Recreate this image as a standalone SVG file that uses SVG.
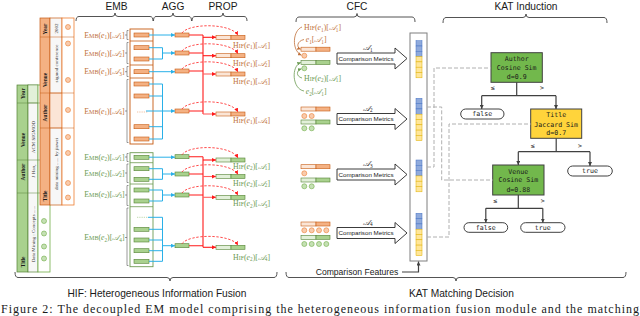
<svg xmlns="http://www.w3.org/2000/svg" width="640" height="316" viewBox="0 0 640 316">
<defs>
<style>
.ob{fill:#F4B183;stroke:#C55A11;stroke-width:0.6}
.ol{fill:#FBE5D6;stroke:#C55A11;stroke-width:0.6}
.gb{fill:#A9D18E;stroke:#548235;stroke-width:0.6}
.gl{fill:#E2F0D9;stroke:#548235;stroke-width:0.6}
.obox{fill:none;stroke:#C55A11;stroke-width:0.9}
.gbox{fill:none;stroke:#6E9B52;stroke-width:0.9}
.ot{font-family:"Liberation Serif",serif;font-size:7.8px;fill:#C0703A}
.gt{font-family:"Liberation Serif",serif;font-size:7.8px;fill:#6B9A52}
.sc{font-size:6px}
.it{font-style:italic}
.sb{font-size:5.2px}
.scr{font-family:"DejaVu Serif","DejaVu Sans","Noto Sans",serif;font-style:italic;font-size:7.6px}
.blue{stroke:#29B0E8;stroke-width:1;fill:none}
.red{stroke:#FF1A1A;stroke-width:1.1;fill:none}
.redl{stroke:#FF6060;stroke-width:1.1;fill:none}
.dash{stroke:#FF2020;stroke-width:0.8;stroke-dasharray:2.4 1.6;fill:none}
.gd{stroke:#B0B0B0;stroke-width:1;stroke-dasharray:4 2;fill:none}
.tree{stroke:#404040;stroke-width:1.2;fill:none}
.mono{font-family:"DejaVu Sans Mono",monospace;font-size:6.6px;fill:#1a1a1a;text-anchor:middle}
.lab{font-family:"Liberation Sans",sans-serif;font-size:10.2px;fill:#1a1a1a;text-anchor:middle}
.br{stroke:#404040;stroke-width:0.9;fill:none}
.th{font-family:"Liberation Serif",serif;font-size:5.4px;font-weight:bold;fill:#1a1a1a;text-anchor:middle}
.tv{font-family:"Liberation Serif",serif;font-size:5px;fill:#333;text-anchor:middle}
.od{fill:#F8CBAD;stroke:#ED7D31;stroke-width:0.6}
.gdot{fill:#C5E0B4;stroke:#70AD47;stroke-width:0.6}
.cm{fill:#fff;stroke:#262626;stroke-width:0.9}
.cmt{font-family:"Liberation Sans",sans-serif;font-size:6.2px;fill:#1a1a1a;text-anchor:middle}
.bl{fill:#8FAADC;stroke:#4472C4;stroke-width:0.5}
.ye{fill:#FFE699;stroke:#E0B000;stroke-width:0.5}
.pill{fill:#fff;stroke:#404040;stroke-width:1}
.oc{stroke:#C0703A;stroke-width:0.8;fill:none}
.gc{stroke:#6B9A52;stroke-width:0.8;fill:none}
.tk{stroke:#555;stroke-width:0.6;fill:none}
</style>
<marker id="ab" viewBox="0 0 6 6" refX="6" refY="3" markerWidth="4" markerHeight="4" markerUnits="userSpaceOnUse" orient="auto"><path d="M0,0 L6,3 L0,6 z" fill="#29B0E8"/></marker>
<marker id="ar" viewBox="0 0 6 6" refX="6" refY="3" markerWidth="4" markerHeight="4" markerUnits="userSpaceOnUse" orient="auto"><path d="M0,0 L6,3 L0,6 z" fill="#FF1A1A"/></marker>
<marker id="ak" viewBox="0 0 6 6" refX="6" refY="3" markerWidth="4" markerHeight="4" markerUnits="userSpaceOnUse" orient="auto"><path d="M0,0 L6,3 L0,6 z" fill="#404040"/></marker>
<marker id="ao" viewBox="0 0 6 6" refX="6" refY="3" markerWidth="3.5" markerHeight="3.5" markerUnits="userSpaceOnUse" orient="auto"><path d="M0,0 L6,3 L0,6 z" fill="#C0703A"/></marker>
<marker id="ag" viewBox="0 0 6 6" refX="6" refY="3" markerWidth="3.5" markerHeight="3.5" markerUnits="userSpaceOnUse" orient="auto"><path d="M0,0 L6,3 L0,6 z" fill="#6B9A52"/></marker>
</defs>
<rect width="640" height="316" fill="#fff"/>

<!-- section labels and brackets -->
<g id="labels">
<text class="lab" x="116.5" y="9.5">EMB</text>
<text class="lab" x="173" y="9.5">AGG</text>
<text class="lab" x="223" y="9.5">PROP</text>
<text class="lab" x="357" y="9.5">CFC</text>
<text class="lab" x="526" y="9.5">KAT Induction</text>
<text class="lab" x="157" y="297">HIF: Heterogeneous Information Fusion</text>
<text class="lab" x="461.5" y="297">KAT Matching Decision</text>
<path class="br" d="M76,21 Q76,16.5 79,16.5 H112 Q115,16.5 115,13 Q115,16.5 118,16.5 H150 Q153,16.5 153,21"/>
<path class="br" d="M153.5,21 Q153.5,16.5 156,16.5 H170 Q173,16.5 173,13 Q173,16.5 176,16.5 H189 Q191.5,16.5 191.5,21"/>
<path class="br" d="M192,21 Q192,16.5 195,16.5 H220 Q223,16.5 223,13 Q223,16.5 226,16.5 H244 Q247,16.5 247,21"/>
<path class="br" d="M296,22 Q296,17 299,17 H354 Q357,17 357,13.5 Q357,17 360,17 H412 Q415,17 415,22"/>
<path class="br" d="M443,23 Q443,17.5 446,17.5 H523 Q526,17.5 526,14 Q526,17.5 529,17.5 H604 Q607,17.5 607,23"/>
<path class="br" d="M15,272 Q15,277.5 18,277.5 H167 Q170,277.5 170,281 Q170,277.5 173,277.5 H274 Q277,277.5 277,272"/>
<path class="br" d="M286,272 Q286,277.5 289,277.5 H453 Q456,277.5 456,281 Q456,277.5 459,277.5 H623 Q626,277.5 626,272"/>
<text x="1" y="312.8" font-family="Liberation Serif, serif" font-size="12" fill="#1a1a1a" textLength="638" lengthAdjust="spacing">Figure 2: The decoupled EM model comprising the heterogeneous information fusion module and the matching</text>
</g>

<!-- entity e2 table (green) -->
<g id="table-e2">
<rect x="17" y="85" width="11" height="187" fill="#A9D18E" stroke="#548235" stroke-width="0.7"/>
<rect x="28" y="85" width="10" height="187" fill="#F7F7F7" stroke="#548235" stroke-width="0.7"/>
<rect x="28" y="85" width="10" height="18" fill="#E2F0D9" stroke="#548235" stroke-width="0.5"/>
<rect x="38" y="85" width="12" height="187" fill="#fff" stroke="#70AD47" stroke-width="0.8"/>
<path d="M17,103 H50 M17,160 H50 M17,193 H50" stroke="#548235" stroke-width="0.5"/>
<text class="th" transform="translate(24.5,93.5) rotate(-90)">Year</text>
<text class="th" transform="translate(24.5,140) rotate(-90)">Venue</text>
<text class="th" transform="translate(24.5,172) rotate(-90)">Author</text>
<text class="th" transform="translate(24.5,262) rotate(-90)">Title</text>
<text class="tv" transform="translate(34.8,137) rotate(-90)">ACM SIGMOD</text>
<text class="tv" transform="translate(34.8,171) rotate(-90)">J Han,</text>
<text class="tv" transform="translate(34.8,234) rotate(-90)">Data Mining : Concepts ......</text>
<circle class="gdot" cx="44" cy="221" r="2.5"/>
<circle class="gdot" cx="44" cy="233.5" r="2.5"/>
<circle class="gdot" cx="44" cy="246.5" r="2.5"/>
<circle class="gdot" cx="44" cy="258.5" r="2.5"/>
</g>

<!-- entity e1 table (orange) -->
<g id="table-e1">
<rect x="40" y="18" width="10" height="187" fill="#F4B183" stroke="#C55A11" stroke-width="0.7"/>
<rect x="50" y="18" width="12" height="187" fill="#F7F7F7" stroke="#C55A11" stroke-width="0.7"/>
<rect x="50" y="93" width="12" height="35" fill="#FBE5D6" stroke="#C55A11" stroke-width="0.5"/>
<rect x="62" y="18" width="12" height="187" fill="#fff" stroke="#ED7D31" stroke-width="0.8"/>
<path d="M40,37 H74 M40,93 H74 M40,128 H74" stroke="#C55A11" stroke-width="0.5"/>
<text class="th" transform="translate(47,29) rotate(-90)">Year</text>
<text class="th" transform="translate(47,80) rotate(-90)">Venue</text>
<text class="th" transform="translate(47,113) rotate(-90)">Author</text>
<text class="th" transform="translate(47,196) rotate(-90)">Title</text>
<text class="tv" transform="translate(57.8,28.5) rotate(-90)">2002</text>
<text class="tv" transform="translate(57.8,63.5) rotate(-90)">sigmod conference</text>
<text class="tv" transform="translate(57.8,164) rotate(-90)">data mining ...... by jiawei</text>
<circle class="od" cx="68" cy="27" r="2.5"/>
<circle class="od" cx="68" cy="43.5" r="2.5"/>
<circle class="od" cx="68" cy="80" r="2.5"/>
<circle class="od" cx="68" cy="110" r="2.5"/>
<circle class="od" cx="68" cy="137" r="2.5"/>
<circle class="od" cx="68" cy="153" r="2.5"/>
<circle class="od" cx="68" cy="183" r="2.5"/>
<circle class="od" cx="68" cy="197.5" r="2.5"/>
</g>

<!-- EMB e1 -->
<g id="emb-e1">
<rect class="obox" x="130" y="29" width="23" height="115"/>
<path d="M130,41 H153 M130,65 H153 M130,78 H153" stroke="#C55A11" stroke-width="0.8"/>
<rect class="ob" x="134" y="33" width="15" height="4"/>
<rect class="ob" x="134" y="45.7" width="15" height="4"/>
<rect class="ob" x="134" y="57" width="15" height="4"/>
<rect class="ob" x="134" y="69.7" width="15" height="4"/>
<rect class="ob" x="134" y="82" width="15" height="4"/>
<rect class="ob" x="134" y="94" width="15" height="4"/>
<path d="M137,112 H148" stroke="#E8A070" stroke-width="0.8" stroke-dasharray="0.8 1"/>
<rect class="ob" x="134" y="124.7" width="15" height="4"/>
<rect class="ob" x="134" y="137" width="15" height="4"/>
<path class="tk" d="M128.5,30.5 H127 V39.5 H128.5 M125,35 H127 M128.5,42.5 H127 V63.5 H128.5 M125,53 H127 M128.5,66.5 H127 V76.5 H128.5 M125,71.7 H127 M128.5,79.5 H127 V142.5 H128.5 M125,111 H127"/>
<text class="ot" x="124.5" y="37.6" text-anchor="end">E<tspan class="sc">MB</tspan>(<tspan class="it">e</tspan><tspan class="sb" dy="1.5">1</tspan><tspan dy="-1.5">)[</tspan><tspan class="scr">𝒜</tspan><tspan class="sb" dy="1.5">1</tspan><tspan dy="-1.5">]</tspan></text>
<text class="ot" x="124.5" y="55.6" text-anchor="end">E<tspan class="sc">MB</tspan>(<tspan class="it">e</tspan><tspan class="sb" dy="1.5">1</tspan><tspan dy="-1.5">)[</tspan><tspan class="scr">𝒜</tspan><tspan class="sb" dy="1.5">2</tspan><tspan dy="-1.5">]</tspan></text>
<text class="ot" x="124.5" y="74.3" text-anchor="end">E<tspan class="sc">MB</tspan>(<tspan class="it">e</tspan><tspan class="sb" dy="1.5">1</tspan><tspan dy="-1.5">)[</tspan><tspan class="scr">𝒜</tspan><tspan class="sb" dy="1.5">3</tspan><tspan dy="-1.5">]</tspan></text>
<text class="ot" x="124.5" y="113.6" text-anchor="end">E<tspan class="sc">MB</tspan>(<tspan class="it">e</tspan><tspan class="sb" dy="1.5">1</tspan><tspan dy="-1.5">)[</tspan><tspan class="scr">𝒜</tspan><tspan class="sb" dy="1.5">4</tspan><tspan dy="-1.5">]</tspan></text>
</g>

<!-- EMB e2 -->
<g id="emb-e2">
<rect class="gbox" x="130" y="152.7" width="23" height="114"/>
<path d="M130,162.7 H153 M130,184 H153 M130,206.7 H153" stroke="#6E9B52" stroke-width="0.8"/>
<rect class="gb" x="134" y="155.3" width="15" height="4"/>
<rect class="gb" x="134" y="166.7" width="15" height="4"/>
<rect class="gb" x="134" y="177.3" width="15" height="4"/>
<rect class="gb" x="134" y="188" width="15" height="4"/>
<rect class="gb" x="134" y="199" width="15" height="4"/>
<path d="M137,217.3 H148" stroke="#9CC480" stroke-width="0.8" stroke-dasharray="0.8 1"/>
<rect class="gb" x="134" y="227.3" width="15" height="4"/>
<rect class="gb" x="134" y="238" width="15" height="4"/>
<rect class="gb" x="134" y="248.7" width="15" height="4"/>
<rect class="gb" x="134" y="259.3" width="15" height="4"/>
<path class="tk" d="M128.5,153.5 H127 V161.5 H128.5 M125,157 H127 M128.5,164 H127 V182.5 H128.5 M125,173 H127 M128.5,185.5 H127 V205.5 H128.5 M125,195 H127 M128.5,208 H127 V265.5 H128.5 M125,237.5 H127"/>
<text class="gt" x="124.5" y="159.6" text-anchor="end">E<tspan class="sc">MB</tspan>(<tspan class="it">e</tspan><tspan class="sb" dy="1.5">2</tspan><tspan dy="-1.5">)[</tspan><tspan class="scr">𝒜</tspan><tspan class="sb" dy="1.5">1</tspan><tspan dy="-1.5">]</tspan></text>
<text class="gt" x="124.5" y="175.6" text-anchor="end">E<tspan class="sc">MB</tspan>(<tspan class="it">e</tspan><tspan class="sb" dy="1.5">2</tspan><tspan dy="-1.5">)[</tspan><tspan class="scr">𝒜</tspan><tspan class="sb" dy="1.5">2</tspan><tspan dy="-1.5">]</tspan></text>
<text class="gt" x="124.5" y="196.6" text-anchor="end">E<tspan class="sc">MB</tspan>(<tspan class="it">e</tspan><tspan class="sb" dy="1.5">2</tspan><tspan dy="-1.5">)[</tspan><tspan class="scr">𝒜</tspan><tspan class="sb" dy="1.5">3</tspan><tspan dy="-1.5">]</tspan></text>
<text class="gt" x="124.5" y="240.2" text-anchor="end">E<tspan class="sc">MB</tspan>(<tspan class="it">e</tspan><tspan class="sb" dy="1.5">2</tspan><tspan dy="-1.5">)[</tspan><tspan class="scr">𝒜</tspan><tspan class="sb" dy="1.5">4</tspan><tspan dy="-1.5">]</tspan></text>
</g>

<!-- AGG bars -->
<g id="agg">
<rect class="ob" x="175" y="33" width="14" height="4"/>
<rect class="ob" x="175" y="51" width="14" height="4"/>
<rect class="ob" x="175" y="69" width="14" height="4"/>
<rect class="ob" x="175" y="109" width="14" height="4"/>
<rect class="gb" x="175" y="154.7" width="14" height="4"/>
<rect class="gb" x="175" y="172" width="14" height="4"/>
<rect class="gb" x="175" y="193" width="14" height="4"/>
<rect class="gb" x="175" y="243.7" width="14" height="4"/>
</g>

<!-- PROP bars and HIF labels -->
<g id="prop">
<rect class="ol" x="216" y="35.3" width="15" height="4"/><rect class="ob" x="231" y="35.3" width="14" height="4"/>
<rect class="ol" x="216" y="53.7" width="15" height="4"/><rect class="ob" x="231" y="53.7" width="14" height="4"/>
<rect class="ol" x="216" y="72" width="15" height="4"/><rect class="ob" x="231" y="72" width="14" height="4"/>
<rect class="ol" x="216" y="112" width="15" height="4"/><rect class="ob" x="231" y="112" width="14" height="4"/>
<rect class="gl" x="216" y="158" width="15" height="4"/><rect class="gb" x="231" y="158" width="14" height="4"/>
<rect class="gl" x="216" y="174.5" width="15" height="4"/><rect class="gb" x="231" y="174.5" width="14" height="4"/>
<rect class="gl" x="216" y="195.3" width="15" height="4"/><rect class="gb" x="231" y="195.3" width="14" height="4"/>
<rect class="gl" x="216" y="245.3" width="15" height="4"/><rect class="gb" x="231" y="245.3" width="14" height="4"/>
<text class="ot" x="233" y="47.8">H<tspan class="sc">IF</tspan>(<tspan class="it">e</tspan><tspan class="sb" dy="1.5">1</tspan><tspan dy="-1.5">)[</tspan><tspan class="scr">𝒜</tspan><tspan class="sb" dy="1.5">1</tspan><tspan dy="-1.5">]</tspan></text>
<text class="ot" x="233" y="65.8">H<tspan class="sc">IF</tspan>(<tspan class="it">e</tspan><tspan class="sb" dy="1.5">1</tspan><tspan dy="-1.5">)[</tspan><tspan class="scr">𝒜</tspan><tspan class="sb" dy="1.5">2</tspan><tspan dy="-1.5">]</tspan></text>
<text class="ot" x="233" y="83.8">H<tspan class="sc">IF</tspan>(<tspan class="it">e</tspan><tspan class="sb" dy="1.5">1</tspan><tspan dy="-1.5">)[</tspan><tspan class="scr">𝒜</tspan><tspan class="sb" dy="1.5">3</tspan><tspan dy="-1.5">]</tspan></text>
<text class="ot" x="233" y="122.8">H<tspan class="sc">IF</tspan>(<tspan class="it">e</tspan><tspan class="sb" dy="1.5">1</tspan><tspan dy="-1.5">)[</tspan><tspan class="scr">𝒜</tspan><tspan class="sb" dy="1.5">4</tspan><tspan dy="-1.5">]</tspan></text>
<text class="gt" x="233" y="168.8">H<tspan class="sc">IF</tspan>(<tspan class="it">e</tspan><tspan class="sb" dy="1.5">2</tspan><tspan dy="-1.5">)[</tspan><tspan class="scr">𝒜</tspan><tspan class="sb" dy="1.5">1</tspan><tspan dy="-1.5">]</tspan></text>
<text class="gt" x="233" y="185.5">H<tspan class="sc">IF</tspan>(<tspan class="it">e</tspan><tspan class="sb" dy="1.5">2</tspan><tspan dy="-1.5">)[</tspan><tspan class="scr">𝒜</tspan><tspan class="sb" dy="1.5">2</tspan><tspan dy="-1.5">]</tspan></text>
<text class="gt" x="233" y="206.1">H<tspan class="sc">IF</tspan>(<tspan class="it">e</tspan><tspan class="sb" dy="1.5">2</tspan><tspan dy="-1.5">)[</tspan><tspan class="scr">𝒜</tspan><tspan class="sb" dy="1.5">3</tspan><tspan dy="-1.5">]</tspan></text>
<text class="gt" x="233" y="259.5">H<tspan class="sc">IF</tspan>(<tspan class="it">e</tspan><tspan class="sb" dy="1.5">2</tspan><tspan dy="-1.5">)[</tspan><tspan class="scr">𝒜</tspan><tspan class="sb" dy="1.5">4</tspan><tspan dy="-1.5">]</tspan></text>
</g>

<!-- CFC inputs -->
<g id="cfc-a1">
<text class="ot" x="304" y="30">H<tspan class="sc">IF</tspan>(<tspan class="it">e</tspan><tspan class="sb" dy="1.5">1</tspan><tspan dy="-1.5">)[</tspan><tspan class="scr">𝒜</tspan><tspan class="sb" dy="1.5">1</tspan><tspan dy="-1.5">]</tspan></text>
<text class="ot" x="305.7" y="42.3"><tspan class="it">e</tspan><tspan class="sb" dy="1.5">1</tspan><tspan dy="-1.5">[</tspan><tspan class="scr">𝒜</tspan><tspan class="sb" dy="1.5">1</tspan><tspan dy="-1.5">]</tspan></text>
<rect class="ol" x="301" y="47.2" width="15" height="4"/><rect class="ob" x="316" y="47.2" width="14" height="4"/>
<circle class="od" cx="304.3" cy="55.7" r="2.5"/>
<rect class="gl" x="301" y="60.5" width="15" height="4"/><rect class="gb" x="316" y="60.5" width="14" height="4"/>
<circle class="gdot" cx="304.3" cy="68.3" r="2.5"/>
<text class="gt" x="304" y="80.7">H<tspan class="sc">IF</tspan>(<tspan class="it">e</tspan><tspan class="sb" dy="1.5">2</tspan><tspan dy="-1.5">)[</tspan><tspan class="scr">𝒜</tspan><tspan class="sb" dy="1.5">1</tspan><tspan dy="-1.5">]</tspan></text>
<text class="gt" x="305.7" y="94"><tspan class="it">e</tspan><tspan class="sb" dy="1.5">2</tspan><tspan dy="-1.5">[</tspan><tspan class="scr">𝒜</tspan><tspan class="sb" dy="1.5">1</tspan><tspan dy="-1.5">]</tspan></text>
</g>
<g id="cfc-a2">
<rect class="ol" x="301" y="107" width="15" height="4"/><rect class="ob" x="316" y="107" width="14" height="4"/>
<circle class="od" cx="304.3" cy="116" r="2.5"/><circle class="od" cx="311.7" cy="116" r="2.5"/>
<rect class="gl" x="301" y="120" width="15" height="4"/><rect class="gb" x="316" y="120" width="14" height="4"/>
<circle class="gdot" cx="304.3" cy="128.3" r="2.5"/><circle class="gdot" cx="311.7" cy="128.3" r="2.5"/>
</g>
<g id="cfc-a3">
<rect class="ol" x="301" y="164.7" width="15" height="4"/><rect class="ob" x="316" y="164.7" width="14" height="4"/>
<circle class="od" cx="304.3" cy="173.3" r="2.5"/>
<rect class="gl" x="301" y="178" width="15" height="4"/><rect class="gb" x="316" y="178" width="14" height="4"/>
<circle class="gdot" cx="304.3" cy="186.3" r="2.5"/><circle class="gdot" cx="311.7" cy="186.3" r="2.5"/>
</g>
<g id="cfc-a4">
<rect class="ol" x="301" y="222" width="15" height="4"/><rect class="ob" x="316" y="222" width="14" height="4"/>
<circle class="od" cx="304.3" cy="230.3" r="2.5"/><circle class="od" cx="311.7" cy="230.3" r="2.5"/><circle class="od" cx="319" cy="230.3" r="2.5"/><circle class="od" cx="326.3" cy="230.3" r="2.5"/>
<rect class="gl" x="301" y="235.3" width="15" height="4"/><rect class="gb" x="316" y="235.3" width="14" height="4"/>
<circle class="gdot" cx="304.3" cy="244" r="2.5"/><circle class="gdot" cx="311.7" cy="244" r="2.5"/><circle class="gdot" cx="319" cy="244" r="2.5"/><circle class="gdot" cx="326.3" cy="244" r="2.5"/>
</g>

<!-- Comparison metrics arrows -->
<g id="metric-a1">
<path class="cm" d="M337,53 H395 V48 L407,58.5 L395,69 V64 H337 Z"/>
<text class="cmt" x="366" y="60.7">Comparison Metrics</text>
<text class="ot" x="363" y="50" style="fill:#1a1a1a"><tspan class="scr">𝒜</tspan><tspan class="sb" dy="1.5">1</tspan></text>
</g>
<g id="metric-a2">
<path class="cm" d="M337,113.5 H395 V108.5 L407,119 L395,129.5 V124.5 H337 Z"/>
<text class="cmt" x="366" y="121.2">Comparison Metrics</text>
<text class="ot" x="363" y="110.5" style="fill:#1a1a1a"><tspan class="scr">𝒜</tspan><tspan class="sb" dy="1.5">2</tspan></text>
</g>
<g id="metric-a3">
<path class="cm" d="M337,169 H395 V164 L407,174.5 L395,185 V180 H337 Z"/>
<text class="cmt" x="366" y="176.7">Comparison Metrics</text>
<text class="ot" x="363" y="166" style="fill:#1a1a1a"><tspan class="scr">𝒜</tspan><tspan class="sb" dy="1.5">3</tspan></text>
</g>
<g id="metric-a4">
<path class="cm" d="M337,227.5 H395 V222.5 L407,233 L395,243.5 V238.5 H337 Z"/>
<text class="cmt" x="366" y="235.2">Comparison Metrics</text>
<text class="ot" x="363" y="224.5" style="fill:#1a1a1a"><tspan class="scr">𝒜</tspan><tspan class="sb" dy="1.5">4</tspan></text>
</g>

<!-- Comparison features column -->
<g id="features">
<rect x="410" y="33" width="17" height="228" fill="#fff" stroke="#7F7F7F" stroke-width="1"/>
<rect class="bl" x="416" y="40.7" width="6" height="5.3"/><rect class="bl" x="416" y="46" width="6" height="5.3"/><rect class="bl" x="416" y="51.3" width="6" height="5.3"/>
<rect class="ye" x="416" y="56.6" width="6" height="5.3"/><rect class="ye" x="416" y="61.9" width="6" height="5.3"/><rect class="ye" x="416" y="67.2" width="6" height="5.3"/><rect class="ye" x="416" y="72.5" width="6" height="5.3"/>
<rect class="bl" x="416" y="98.3" width="6" height="5.3"/><rect class="bl" x="416" y="103.6" width="6" height="5.3"/><rect class="bl" x="416" y="108.9" width="6" height="5.3"/>
<rect class="ye" x="416" y="114.2" width="6" height="5.3"/><rect class="ye" x="416" y="119.5" width="6" height="5.3"/><rect class="ye" x="416" y="124.8" width="6" height="5.3"/><rect class="ye" x="416" y="130.1" width="6" height="5.3"/><rect class="ye" x="416" y="135.4" width="6" height="5.3"/>
<rect class="bl" x="416" y="160" width="6" height="5.3"/><rect class="bl" x="416" y="165.3" width="6" height="5.3"/><rect class="bl" x="416" y="170.6" width="6" height="5.3"/>
<rect class="ye" x="416" y="175.9" width="6" height="5.3"/><rect class="ye" x="416" y="181.2" width="6" height="5.3"/><rect class="ye" x="416" y="186.5" width="6" height="5.3"/>
<rect class="bl" x="416" y="213.3" width="6" height="5.3"/><rect class="bl" x="416" y="218.6" width="6" height="5.3"/><rect class="bl" x="416" y="223.9" width="6" height="5.3"/>
<rect class="ye" x="416" y="229.2" width="6" height="5.3"/><rect class="ye" x="416" y="234.5" width="6" height="5.3"/><rect class="ye" x="416" y="239.8" width="6" height="5.3"/><rect class="ye" x="416" y="245.1" width="6" height="5.3"/><rect class="ye" x="416" y="250.4" width="6" height="5.3"/>
<text x="357" y="274.7" font-family="Liberation Sans, sans-serif" font-size="8.6" fill="#1a1a1a" text-anchor="middle">Comparison Features</text>
</g>

<!-- Tree nodes -->
<g id="node-author">
<rect x="491" y="52.7" width="51.3" height="29.6" fill="#72B84C" stroke="#404040" stroke-width="1"/>
<text class="mono" x="516.7" y="61.4">Author</text>
<text class="mono" x="516.7" y="70.1">Cosine Sim</text>
<text class="mono" x="516.7" y="79">d=0.9</text>
</g>
<g id="node-title">
<rect x="530.7" y="109" width="51" height="29.3" fill="#FFD43B" stroke="#404040" stroke-width="1"/>
<text class="mono" x="556.2" y="117.4">Title</text>
<text class="mono" x="556.2" y="126.7">Jaccard Sim</text>
<text class="mono" x="556.2" y="135.1">d=0.7</text>
</g>
<g id="node-venue">
<rect x="492.7" y="165" width="51.3" height="30" fill="#72B84C" stroke="#404040" stroke-width="1"/>
<text class="mono" x="518.3" y="174.1">Venue</text>
<text class="mono" x="518.3" y="182.4">Cosine Sim</text>
<text class="mono" x="518.3" y="191.7">d=0.88</text>
</g>
<g id="leaf-false-1">
<rect class="pill" x="460.7" y="109" width="43.3" height="10" rx="5"/>
<text class="mono" x="482.3" y="116.3">false</text>
</g>
<g id="leaf-true-1">
<rect class="pill" x="567.7" y="166" width="44.6" height="10" rx="5"/>
<text class="mono" x="590" y="173.3">true</text>
</g>
<g id="leaf-false-2">
<rect class="pill" x="464" y="222.7" width="43.7" height="9.6" rx="4.8"/>
<text class="mono" x="485.8" y="229.8">false</text>
</g>
<g id="leaf-true-2">
<rect class="pill" x="520.7" y="222.7" width="44.3" height="9.6" rx="4.8"/>
<text class="mono" x="542.8" y="229.8">true</text>
</g>

<!-- connectors -->
<g id="connectors">
<path class="blue" d="M149,35 H175" marker-end="url(#ab)"/>
<path class="blue" d="M149,47.7 H162.5 M149,59 H162.5 M162.5,47.7 V59"/>
<path class="blue" d="M162.5,53 H175" marker-end="url(#ab)"/>
<path class="blue" d="M149,71.7 H175" marker-end="url(#ab)"/>
<path class="blue" d="M149,84 H162.5 M149,96 H162.5 M149,126.7 H162.5 M149,139 H162.5 M162.5,84 V139"/>
<path class="blue" d="M146,111 H175" marker-end="url(#ab)"/>
<path class="blue" d="M149,157.2 H175" marker-end="url(#ab)"/>
<path class="blue" d="M149,168.7 H162.5 M149,179.3 H162.5 M162.5,168.7 V179.3"/>
<path class="blue" d="M162.5,174 H175" marker-end="url(#ab)"/>
<path class="blue" d="M149,190 H162.5 M149,201 H162.5 M162.5,190 V201"/>
<path class="blue" d="M162.5,195 H175" marker-end="url(#ab)"/>
<path class="blue" d="M148,217.3 H162.5 M149,229.3 H162.5 M149,240 H162.5 M149,250.7 H162.5 M149,261.3 H162.5 M162.5,217.3 V261.3"/>
<path class="blue" d="M162.5,245.7 H175" marker-end="url(#ab)"/>
<path class="red" d="M189,35 H203 M189,53 H203 M189,71 H203 M189,111 H203 M203,35 V114"/>
<path class="red" d="M203,37.3 H216" marker-end="url(#ar)"/>
<path class="red" d="M203,55.7 H216" marker-end="url(#ar)"/>
<path class="redl" d="M203,74 H216" marker-end="url(#ar)"/>
<path class="redl" d="M203,114 H216" marker-end="url(#ar)"/>
<path class="red" d="M189,156.7 H203 M189,174 H203 M189,195 H203 M189,245.7 H203 M203,156.7 V247.3"/>
<path class="red" d="M203,160 H216" marker-end="url(#ar)"/>
<path class="redl" d="M203,176.5 H216" marker-end="url(#ar)"/>
<path class="redl" d="M203,197.3 H216" marker-end="url(#ar)"/>
<path class="red" d="M203,247.3 H216" marker-end="url(#ar)"/>
<path class="dash" d="M182,33 C189,23 231,23 238,35.3" marker-end="url(#ar)"/>
<path class="dash" d="M182,51 C189,41 231,41 238,53.7" marker-end="url(#ar)"/>
<path class="dash" d="M182,69 C189,59 231,59 238,72" marker-end="url(#ar)"/>
<path class="dash" d="M182,109 C189,99 231,99 238,112" marker-end="url(#ar)"/>
<path class="dash" d="M182,154.7 C189,144.7 231,144.7 238,158" marker-end="url(#ar)"/>
<path class="dash" d="M182,172 C189,162 231,162 238,174.5" marker-end="url(#ar)"/>
<path class="dash" d="M182,193 C189,183 231,183 238,195.3" marker-end="url(#ar)"/>
<path class="dash" d="M182,243.7 C189,233.7 231,233.7 238,245.3" marker-end="url(#ar)"/>
<path class="oc" d="M302,27 C293,30 291,50 301.5,55.3" marker-end="url(#ao)"/>
<path class="oc" d="M304,39.5 C297,41 296,47.5 300.8,49.2" marker-end="url(#ao)"/>
<path class="gc" d="M302,78 C296,76.5 296,70.5 301.5,68.8" marker-end="url(#ag)"/>
<path class="gc" d="M304,91 C292,89 291,66 300.8,62.5" marker-end="url(#ag)"/>
<path class="tree" d="M402,272 H418.5 V261.5" stroke-width="1" marker-end="url(#ak)"/>
<path class="gd" d="M427,167 H434 V68 H491"/>
<path class="gd" d="M427,107 H441.7 V180 H492.7"/>
<path class="gd" d="M427,237 H449 V124 H530.7"/>
<path class="tree" d="M516.7,82.3 V95.7 M481.7,95.7 H556"/>
<path class="tree" d="M481.7,95.7 V109" marker-end="url(#ak)"/>
<path class="tree" d="M556,95.7 V109" marker-end="url(#ak)"/>
<path class="tree" d="M556.2,138.3 V151.7 M518.3,151.7 H590"/>
<path class="tree" d="M518.3,151.7 V165" marker-end="url(#ak)"/>
<path class="tree" d="M590,151.7 V166" marker-end="url(#ak)"/>
<path class="tree" d="M518.3,195 V208.3 M485.8,208.3 H542.8"/>
<path class="tree" d="M485.8,208.3 V222.7" marker-end="url(#ak)"/>
<path class="tree" d="M542.8,208.3 V222.7" marker-end="url(#ak)"/>
<text class="mono" x="492.7" y="90.2">≤</text>
<text class="mono" x="542" y="90.2">&gt;</text>
<text class="mono" x="532.7" y="147.9">≤</text>
<text class="mono" x="580" y="147.9">&gt;</text>
<text class="mono" x="495.3" y="203.2">≤</text>
<text class="mono" x="542.7" y="203.2">&gt;</text>
</g>
</svg>
